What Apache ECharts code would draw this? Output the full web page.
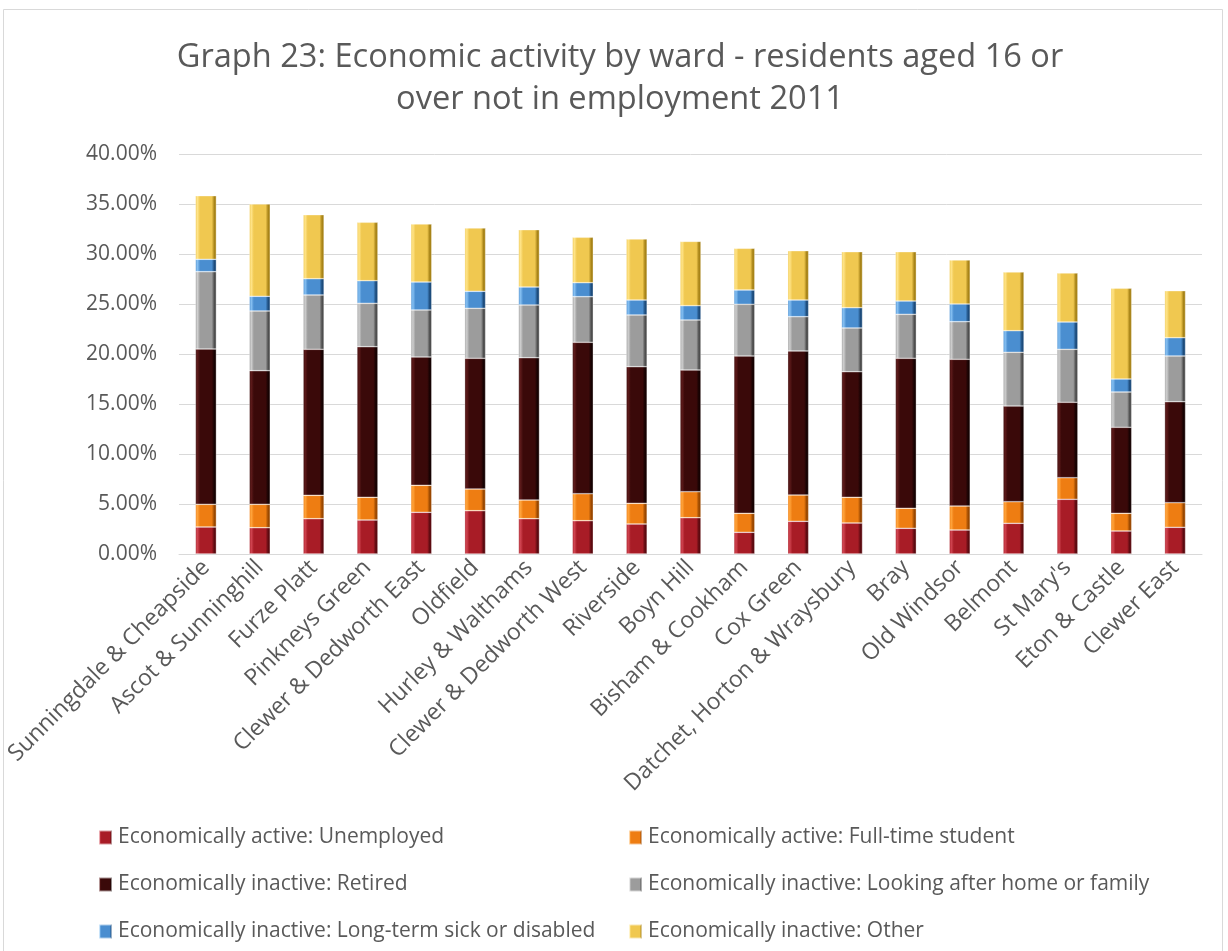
<!DOCTYPE html>
<html>
<head>
<meta charset="utf-8">
<title>Economic activity by ward</title>
<script src="https://cdn.jsdelivr.net/npm/echarts@6/dist/echarts.min.js"></script>
<style>
  html, body { margin: 0; padding: 0; background: #ffffff; }
  #chart { width: 1228px; height: 951px; }
</style>
</head>
<body>
<div id="chart"></div>
<script>
// Wards, ordered by total share of residents aged 16+ not in employment
const wards = [
  'Sunningdale & Cheapside', 'Ascot & Sunninghill', 'Furze Platt', 'Pinkneys Green',
  'Clewer & Dedworth East', 'Oldfield', 'Hurley & Walthams', 'Clewer & Dedworth West',
  'Riverside', 'Boyn Hill', 'Bisham & Cookham', 'Cox Green',
  'Datchet, Horton & Wraysbury', 'Bray', 'Old Windsor', 'Belmont',
  "St Mary's", 'Eton & Castle', 'Clewer East'
];

// Percentages of residents aged 16+ (per ward)
const unemployed = [2.70, 2.63, 3.53, 3.40, 4.17, 4.33, 3.53, 3.33, 3.00, 3.63, 2.17, 3.27, 3.10, 2.57, 2.40, 3.07, 5.47, 2.30, 2.67];
const student    = [2.27, 2.34, 2.34, 2.27, 2.70, 2.17, 1.87, 2.70, 2.07, 2.60, 1.90, 2.63, 2.57, 2.00, 2.40, 2.16, 2.16, 1.77, 2.46];
const retired    = [15.53, 13.36, 14.60, 15.06, 12.83, 13.07, 14.23, 15.14, 13.66, 12.17, 15.73, 14.40, 12.56, 15.00, 14.67, 9.57, 7.54, 8.60, 10.10];
const homeFamily = [7.73, 5.97, 5.43, 4.34, 4.70, 5.00, 5.27, 4.56, 5.17, 5.00, 5.17, 3.43, 4.37, 4.40, 3.76, 5.37, 5.30, 3.53, 4.57];
const sick       = [1.24, 1.47, 1.63, 2.26, 2.80, 1.70, 1.80, 1.40, 1.50, 1.43, 1.43, 1.67, 2.03, 1.33, 1.77, 2.16, 2.73, 1.30, 1.83];
const other      = [6.36, 9.23, 6.40, 5.84, 5.80, 6.33, 5.73, 4.54, 6.10, 6.43, 4.17, 4.93, 5.60, 4.93, 4.40, 5.87, 4.90, 9.07, 4.70];

// Y axis ticks
const yMin = 0, yMax = 40, yStep = 5;

const seriesNames = [
  'Economically active: Unemployed',
  'Economically active: Full-time student',
  'Economically inactive: Retired',
  'Economically inactive: Looking after home or family',
  'Economically inactive: Long-term sick or disabled',
  'Economically inactive: Other'
];
const seriesData = [unemployed, student, retired, homeFamily, sick, other];

// bevelled look: light left edge, darker right edge
const palette = [
  { light: '#d04450', base: '#a81c26', dark: '#5c0a10' },
  { light: '#ffa43c', base: '#ee7d12', dark: '#9a4800' },
  { light: '#5c1a1a', base: '#3a0909', dark: '#160202' },
  { light: '#cfcfcf', base: '#9c9c9c', dark: '#4e4e4e' },
  { light: '#86c0f2', base: '#4a8ed0', dark: '#1d4c7c' },
  { light: '#ffe488', base: '#f0c850', dark: '#a88418' }
];

function bevel(c) {
  return new echarts.graphic.LinearGradient(0, 0, 1, 0, [
    { offset: 0, color: c.base },
    { offset: 0.1, color: c.light },
    { offset: 0.22, color: c.base },
    { offset: 0.78, color: c.base },
    { offset: 0.9, color: c.dark },
    { offset: 1, color: c.dark }
  ]);
}

const series = seriesNames.map((name, i) => ({
  name: name,
  type: 'bar',
  stack: 'total',
  barWidth: 21,
  data: seriesData[i],
  itemStyle: {
    color: bevel(palette[i]),
    borderColor: 'rgba(255,255,255,0.55)',
    borderWidth: 0.6
  },
  emphasis: { disabled: true }
}));

const FONT = "'Open Sans'";
const legendText = { color: '#595959', fontSize: 21, fontFamily: FONT, padding: [0, 0, 0, 1] };
const legendCommon = {
  orient: 'vertical',
  top: 827,
  padding: 0,
  itemWidth: 13,
  itemHeight: 14,
  itemGap: 26,
  icon: 'rect',
  selectedMode: false,
  textStyle: legendText
};

const chart = echarts.init(document.getElementById('chart'), null, { renderer: 'canvas' });
chart.setOption({
  backgroundColor: '#ffffff',
  animation: false,
  graphic: [{
    type: 'rect',
    shape: { x: 3.5, y: 9.5, width: 1219, height: 960 },
    style: { fill: 'none', stroke: '#d9d9d9', lineWidth: 1 },
    silent: true
  }],
  title: {
    text: 'Graph 23: Economic activity by ward - residents aged 16 or\nover not in employment 2011',
    left: 615,
    textAlign: 'center',
    top: 32,
    textStyle: {
      color: '#595959',
      fontFamily: FONT,
      fontWeight: 'normal',
      fontSize: 32.6,
      lineHeight: 42
    }
  },
  legend: [
    Object.assign({ left: 98, data: [seriesNames[0], seriesNames[2], seriesNames[4]] }, legendCommon),
    Object.assign({ left: 628, data: [seriesNames[1], seriesNames[3], seriesNames[5]] }, legendCommon)
  ],
  grid: {
    left: 179, right: 26, top: 154, bottom: 397,
    containLabel: false,
    outerBoundsMode: 'none'
  },
  xAxis: {
    type: 'category',
    data: wards,
    axisLine: { lineStyle: { color: '#d9d9d9', width: 1 } },
    axisTick: { show: false },
    axisLabel: {
      interval: 0,
      rotate: 45,
      margin: 10,
      color: '#595959',
      fontSize: 23,
      fontFamily: FONT
    }
  },
  yAxis: {
    type: 'value',
    min: yMin,
    max: yMax,
    interval: yStep,
    axisLine: { show: false },
    axisTick: { show: false },
    splitLine: { lineStyle: { color: '#d9d9d9', width: 1 } },
    axisLabel: {
      margin: 22,
      color: '#595959',
      fontSize: 21,
      fontFamily: FONT,
      formatter: v => v.toFixed(2) + '%'
    }
  },
  series: series
});
</script>
</body>
</html>
